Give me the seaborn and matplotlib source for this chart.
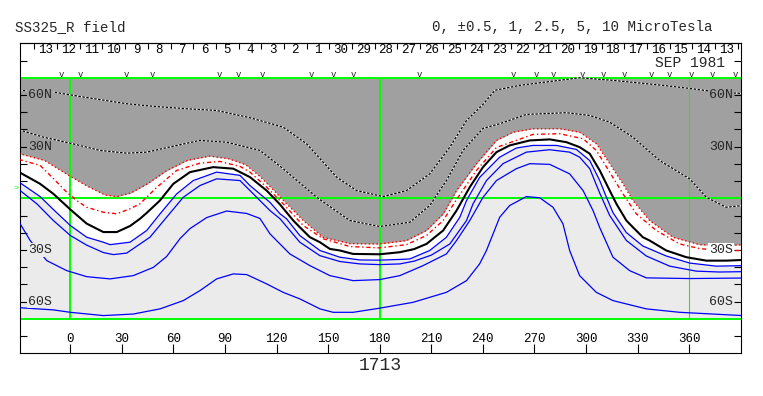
import matplotlib
matplotlib.use("Agg")
import matplotlib.pyplot as plt
import matplotlib.transforms as mtransforms
import pandas as pd
import seaborn as sns

# traced contours: Carrington longitude / latitude (degrees)
gray_edge_lon = [-30, -15, 0, 10, 20, 27, 35, 45, 56, 68, 81, 92, 102, 110, 117, 124, 135.5, 147, 162.6,
                 180, 195.6, 207.2, 217, 224.7, 236.3, 247.9, 257.6, 269.2, 284.7, 296.3, 306, 313.8,
                 321.5, 327.3, 337, 350.6, 366, 376, 391]
gray_edge_lat = [26, 22, 12.7, 7, 2, 1, 3, 8.5, 16, 22, 24.5, 23, 19.5, 13, 6, -1.3, -12.9, -22.6, -26.3,
                 -26.5, -24.5, -18.7, -9, 4.5, 20.1, 33.6, 38.4, 40.4, 40.4, 38.4, 31.7, 20.1,
                 8.4, -1.3, -12.9, -22.6, -26.9, -27.4, -27]

red2_lon = [-30, -17.6, -9.9, -2.1, 3.7, 9.5, 19.2, 27, 34.7, 40.5, 50.2, 61.9, 75.4, 87, 98.8, 104.5,
            114.2, 123.8, 135.5, 147.1, 162.6, 180, 195.6, 207.2, 216.9, 224.7, 236.3, 247.9, 269.2,
            284.7, 298.3, 306, 313.8, 321.5, 329.3, 340.9, 354.5, 366.1, 377.7, 391]
red2_lat = [22.6, 19.1, 11.5, 3.5, -1.3, -5.2, -8.1, -9, -6.1, -3.2, 6.3, 16.2, 20.4, 21.4, 18.5, 15.2,
            6.5, -3.2, -15.8, -23.5, -28, -28.8, -26.9, -21.6, -12.9, -0.7, 16.2, 29.5, 37.1,
            37.5, 34.6, 27.8, 15.2, 2.6, -9, -18.7, -26.5, -29.2, -30.3, -30.3]

neutral_lon = [-30, -17.6, -9.9, 0, 9.5, 19.2, 27, 34.7, 40.5, 44.4, 52.1, 59.9, 69.6, 83.1, 94.8, 104.5,
               114.2, 122, 129.7, 133.5, 139.4, 145.2, 151, 156.8, 164.5, 180, 191.7, 200, 207.2, 216.9,
               224.7, 232.4, 240.1, 247.9, 255.6, 267.3, 278.9, 288.6, 296.3, 302.2, 308, 313.8, 317.7,
               323.5, 327.3, 333.1, 337, 346.7, 358.4, 370, 381.6, 391]
neutral_lat = [15.3, 8.4, 2.6, -6.5, -14.7, -19.6, -19.6, -16.1, -11.9, -8.5, -1.3, 8.4, 15.2, 18.1, 17.2,
               12.3, 4.5, -3.6, -12.9, -16.8, -22.6, -25.5, -29.4, -30.3, -32.3, -32.5, -31.3, -29.5,
               -26.5, -18.7, -7.1, 6.5, 18.1, 26.8, 30.7, 33.6, 34.2, 32.6, 29.7, 25.9, 16.2, 4.5,
               -3.2, -12.9, -16.8, -22.6, -24.5, -30.3, -34.2, -36.2, -36.2, -35.8]

b1_lon = [-30, -17.6, -9.9, 0, 9.5, 19.2, 23.1, 34.7, 44.4, 52.2, 61.9, 71.5, 85.1, 98.7, 104.5, 116.1,
          122, 125.8, 133.5, 145.2, 156.8, 168.4, 180, 191.7, 197.5, 209.1, 218.8, 226.6, 230.5, 238.1,
          249.8, 259.5, 269.2, 282.8, 294.4, 302.2, 308, 311.5, 315.7, 323.5, 333.1, 346.7, 360.3,
          375.8, 391]
b1_lat = [9.5, 1.0, -6.5, -15.8, -22.6, -25.5, -26.9, -25.5, -18.7, -9.0, 2.6, 10.3, 15.2, 13.3, 7.4,
          -2.3, -9.0, -11.9, -21.6, -30.3, -34.2, -35.8, -35.9, -35.5, -35.2, -30.3, -22.6, -11.0, -1.3,
          12.1, 23.9, 29.2, 30.7, 30.7, 28.4, 21.9, 10.3, 1.6, -8.3, -19.9, -27.7, -33.5, -37.6,
          -39.4, -39.1]

b2_lon = [-30, -19.5, -9.9, 0, 9.5, 19.2, 25, 32.8, 46.3, 56, 65.7, 75.4, 85.1, 98.7, 104.5, 116.1, 122,
          133.5, 145.2, 156.8, 168.4, 180, 191.7, 200, 210, 220.8, 230.5, 234.3, 242.1, 251.7, 265.3,
          278.8, 290.5, 296.3, 302.2, 308, 313.8, 323.5, 335.1, 348.7, 364.2, 377.7, 391]
b2_lat = [5.1, -3.2, -12.9, -21.6, -27.2, -31.5, -32.7, -31.8, -22.6, -11.0, 0.6, 7.4, 11.3, 10.3, 4.5,
          -7.1, -11.9, -25.5, -33.3, -36.7, -38.1, -38.5, -38.1, -36.5, -33, -26.5, -12.9, -3.2, 10.3,
          20.1, 26.8, 28.2, 26.8, 23.9, 17.2, 3, -10, -24.5, -33.5, -39.4, -42.3, -42.8, -42.6]

b3_lon = [-30, -23.4, -13.7, -2.1, 9.5, 23.1, 36.6, 48.3, 56, 63.8, 69.6, 79.3, 90.9, 102.6, 110.3, 116.1,
          127.7, 139.4, 151, 164.5, 180, 191.7, 205.2, 218.8, 224.7, 232.4, 240.1, 247.9, 259.5, 267.3,
          278.9, 290.5, 298.3, 304.1, 308, 315.7, 325.4, 335.1, 360.3, 391]
b3_lat = [-13.5, -24.5, -36.2, -42.0, -45.5, -46.8, -44.9, -40.1, -33.8, -23.4, -17.6, -11.2, -7.4, -8.8,
          -11.7, -20.6, -32.3, -39.1, -44.9, -47.8, -47.2, -44.9, -39.1, -32.3, -24.5, -12.9, 0.6, 10.3,
          17.2, 20.1, 19.7, 14.2, 4.5, -7.1, -17, -34.2, -42, -46.2, -46.6, -46.3]

b4_lon = [-30, -9.9, 0, 19.2, 36.6, 52.2, 65.7, 75.4, 85.1, 94.8, 102.6, 114.2, 123.8, 133.5, 145.2,
          152.9, 164.5, 180, 199.4, 218.8, 230.5, 238.1, 242.1, 249.8, 255.6, 265.3, 273.1, 280.8,
          286.6, 290.5, 296.3, 306, 315.7, 335.1, 354.5, 373.8, 391]
b4_lat = [-63.5, -64.8, -66.2, -68.1, -67.2, -64.2, -59.4, -53.6, -46.8, -43.9, -44.3, -49.7, -54.6,
          -58.4, -64.2, -66.2, -66.2, -63.8, -60.4, -54.6, -47.8, -38.1, -30.3, -11.0, -4.2, 1.0, 0.3,
          -5.2, -14.8, -30.3, -44.9, -54.6, -59.4, -64.2, -66.2, -67.2, -68.1]

neg_a_lon = [-30, -9.9, 7.6, 32.8, 48.3, 67.7, 85.1, 104.5, 123.8, 137.4, 154.9, 166.5, 182, 195.6,
             209.1, 220.8, 230.5, 240.1, 247, 261.5, 296.3, 315.5, 344.6, 360.3, 377.7, 391]
neg_a_lat = [62.7, 61.7, 58.8, 54.9, 53.4, 52.0, 51.0, 46.8, 41.3, 31.7, 12.3, 4.5, 1.0, 4.5,
             14.2, 29.7, 45.2, 54.5, 62.7, 65.6, 70.0, 68.5, 65.6, 63.8, 61.5, 60.9]

neg_b_lon = [-30, -15.7, 0, 17.3, 32.8, 44.4, 61.9, 75.4, 90.9, 110.3, 123.8, 143.3, 162.6, 180, 197.5,
             209.1, 218.8, 228.5, 240.1, 249.8, 265.3, 288.6, 302.2, 313.8, 327.3, 342.8, 360.3, 370,
             381.6, 391]
neg_b_lat = [39.8, 35.5, 32.0, 27.8, 26.2, 26.8, 30.7, 33.6, 32.6, 27.8, 17.2, 0.6, -12.9, -16.4, -13.9,
             -4.2, 10.3, 27.8, 40.6, 43.3, 48.7, 49.7, 48.1, 44.2, 35.5, 22.0, 11.3, 0.6,
             -5.2, -4.2]

# axis annotations
lon_ticks = list(range(0, 361, 30))
lat_ticks = [-80, -60, -50, -40, -30, -20, -10, 10, 20, 30, 40, 50, 60, 80]
lat_labels = {60: "60N", 30: "30N", -30: "30S", -60: "60S"}
day_labels = ["13", "12", "11", "10", "9", "8", "7", "6", "5", "4", "3", "2", "1",
              "30", "29", "28", "27", "26", "25", "24", "23", "22", "21", "20", "19", "18",
              "17", "16", "15", "14", "13"]
first_day_lon = -14.3
day_step = 13.2
obs_lon = [-5.0, 5.6, 32.4, 47.9, 86.6, 97.7, 111.9, 140.3, 152.9, 164.5, 203.3, 257.6, 271.2,
           280.8, 297.9, 309.9, 322.5, 338.0, 348.3, 361.3, 373.8, 387.0]

GREEN = "#00ff00"
DARK = "#a0a0a0"
LIGHT = "#ebebeb"

sns.set_style("white")
plt.rcParams["font.family"] = ["Liberation Mono", "DejaVu Sans Mono"]

fig = plt.figure(figsize=(7.63, 3.96), dpi=100)
ax = fig.add_axes([20 / 763, 1 - 353.3 / 396, 721 / 763, 310 / 396])
ax.set_xlim(-29.3, 390.2)
ax.set_ylim(-90, 90)


def trace(lon, lat, **kw):
    df = pd.DataFrame({"lon": lon, "lat": lat})
    sns.lineplot(data=df, x="lon", y="lat", ax=ax, sort=False, estimator=None,
                 legend=False, **kw)


# shaded polarity regions
ax.fill_between(gray_edge_lon, gray_edge_lat, 70, color=DARK, lw=0, zorder=0.5)
ax.fill_between(b1_lon, -70, b1_lat, color=LIGHT, lw=0, zorder=0.5)

# grid lines
for y in (-70, 0, 70):
    ax.axhline(y, color=GREEN, lw=1.4, zorder=1)
ax.vlines([0, 180], -70, 70, color=GREEN, lw=1.4, zorder=1)
ax.vlines([360], -70, 70, color=GREEN, lw=0.8, zorder=1)

# negative contours in the gray area
for lon, lat in ((neg_a_lon, neg_a_lat), (neg_b_lon, neg_b_lat)):
    trace(lon, lat, color="white", lw=0.9, zorder=2)
    trace(lon, lat, color="black", lw=0.9, linestyle=(0, (2, 1.2)), zorder=2.1)

trace(gray_edge_lon, gray_edge_lat, color="red", lw=1.0, linestyle=(0, (1, 1.8)), zorder=3)
trace(red2_lon, red2_lat, color="red", lw=1.0, linestyle=(0, (3, 2, 1, 2)), zorder=3)
trace(neutral_lon, neutral_lat, color="black", lw=1.5, zorder=3)
for lon, lat in ((b1_lon, b1_lat), (b2_lon, b2_lat), (b3_lon, b3_lat), (b4_lon, b4_lat)):
    trace(lon, lat, color="#0000ff", lw=0.9, zorder=3)

# frame and ticks
for s in ax.spines.values():
    s.set_color("black")
    s.set_linewidth(0.8)
ax.set_xticks(lon_ticks)
ax.set_xticklabels([str(v) for v in lon_ticks])
ax.tick_params(axis="x", direction="in", length=6.5, width=0.8, pad=-14.5, labelsize=9,
               colors="black", bottom=True)
ax.set_yticks(lat_ticks)
ax.set_yticklabels([])
ax.tick_params(axis="y", direction="in", length=5, width=0.8, left=True, right=True,
               colors="black")
ax.set_xlabel("")
ax.set_ylabel("")

edge_bg = {("l", 60): DARK, ("l", 30): DARK, ("l", -30): LIGHT, ("l", -60): LIGHT,
           ("r", 60): DARK, ("r", 30): DARK, ("r", -30): "white", ("r", -60): LIGHT}
tr = mtransforms.blended_transform_factory(ax.transAxes, ax.transData)
for lat, txt in lat_labels.items():
    ax.text(0.0112, lat, txt, transform=tr, ha="left", va="center", fontsize=9.5, zorder=5,
            bbox=dict(facecolor=edge_bg[("l", lat)], edgecolor="none", pad=0.6))
    ax.text(0.9888, lat, txt, transform=tr, ha="right", va="center", fontsize=9.5, zorder=5,
            bbox=dict(facecolor=edge_bg[("r", lat)], edgecolor="none", pad=0.6))

# day-of-month strip along the top
day_centers = [first_day_lon + day_step * i for i in range(len(day_labels))]
day_edges = [c - day_step / 2 for c in day_centers] + [day_centers[-1] + day_step / 2]
sec = ax.secondary_xaxis("top")
sec.set_xticks(day_edges)
sec.set_xticklabels([])
sec.set_xticks(day_centers, labels=day_labels, minor=True)
sec.tick_params(which="major", direction="in", length=4, width=0.8, colors="black")
sec.tick_params(which="minor", length=0, pad=-9.3, labelsize=9, colors="black")
sec.spines["top"].set_linewidth(0.8)

for lon in obs_lon:
    ax.text(lon, 72.0, "v", ha="center", va="center", fontsize=6.5, zorder=5)

ax.text(0.978, 78.8, "SEP 1981", transform=tr, ha="right", va="center", fontsize=10.5)

fig.text(15 / 763, 1 - 27 / 396, "SS325_R field", ha="left", va="center", fontsize=10.2)
fig.text(712 / 763, 1 - 27 / 396, "0, \u00b10.5, 1, 2.5, 5, 10 MicroTesla", ha="right",
         va="center", fontsize=10.2)
fig.text(380 / 763, 1 - 365.5 / 396, "1713", ha="center", va="center", fontsize=13)
fig.text(16.5 / 763, 1 - 188 / 396, ">", ha="center", va="center", fontsize=6, color=GREEN)

fig.savefig("out.png", dpi=100)
plt.close(fig)
